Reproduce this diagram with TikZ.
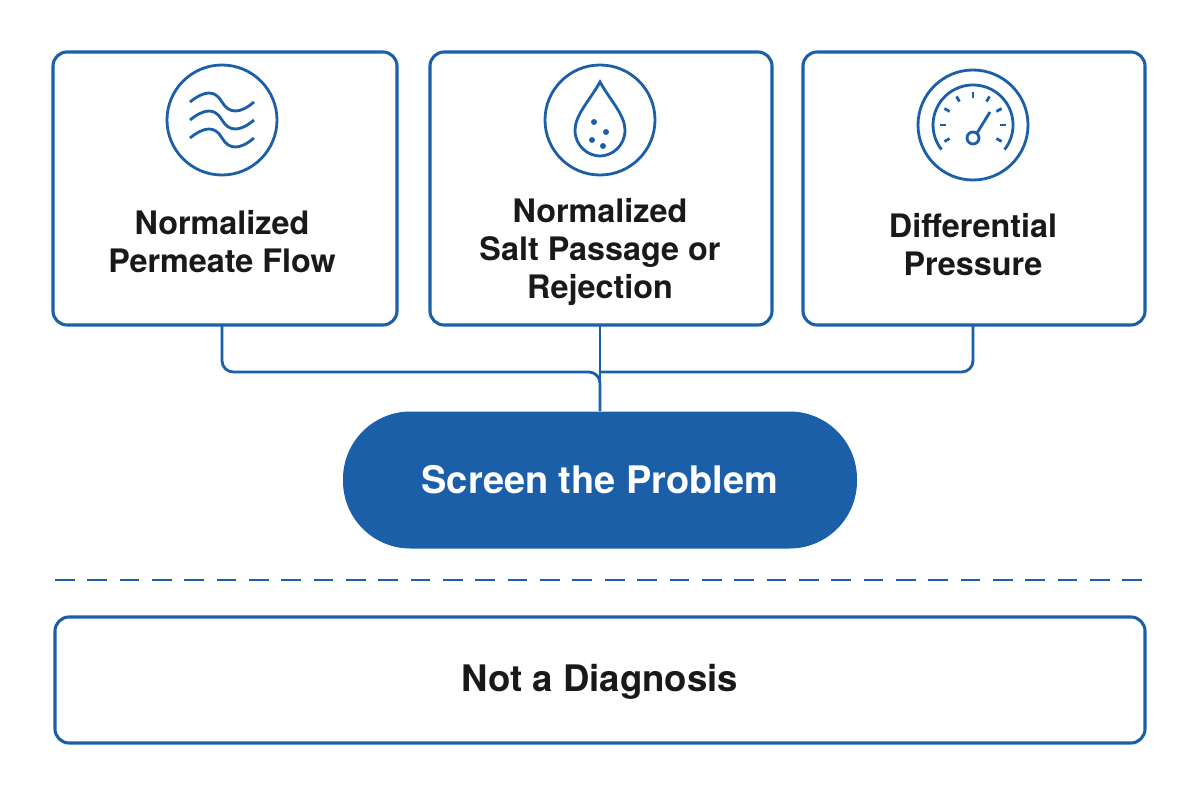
\documentclass[tikz,border=0pt]{standalone}
\usepackage{fontspec}
\setmainfont{TeX Gyre Heros}
\usetikzlibrary{calc}
\definecolor{rsblue}{HTML}{1A5FA8}
\tikzset{
  card/.style={draw=rsblue,line width=2.2pt,rounded corners=10pt},
  icon/.style={draw=rsblue,line width=2pt},
  lbl/.style={font=\fontsize{23}{27}\selectfont\bfseries,text=black!90,align=center},
  link/.style={draw=rsblue,line width=2pt,rounded corners=8pt}
}
\begin{document}
\begin{tikzpicture}[x=0.025cm,y=-0.025cm]
  \useasboundingbox (0,0) rectangle (1200,800);
  % top cards
  \draw[card] (53,52) rectangle (397,325);
  \draw[card] (430,52) rectangle (772,325);
  \draw[card] (803,52) rectangle (1145,325);
  \node[lbl] (flow) at (222,242) {Normalized\\Permeate Flow};
  \node[lbl] (salt) at (600,252) {Normalized\\Salt Passage or\\Rejection};
  \node[lbl] (dp) at (973,245) {Differential\\Pressure};
  % icons
  \draw[icon] (222,120) circle (55);
  \foreach \y in {-18,0,18}
    \draw[icon] (190,120+\y) .. controls (205,108+\y) and (215,108+\y) .. (222,120+\y)
                 .. controls (229,132+\y) and (240,132+\y) .. (254,120+\y);
  \draw[icon] (600,120) circle (55);
  \draw[icon] (600,82) .. controls (590,100) and (575,115) .. (575,130)
     .. controls (575,146) and (588,156) .. (600,156)
     .. controls (612,156) and (625,146) .. (625,130)
     .. controls (625,115) and (610,100) .. (600,82) -- cycle;
  \foreach \p in {(594,122),(606,132),(592,140),(603,146)}
    \fill[rsblue] \p circle (3);
  \draw[icon] (973,125) circle (55);
  \draw[icon] (941.5,149.6) arc (142:398:40);
  \foreach \a in {210,180,150,120,90,60,30,0,-30}
    \draw[icon] ($(973,125)+(\a:-33)$) -- ($(973,125)+(\a:-27)$);
  \draw[icon] (973,138) circle (6);
  \draw[icon] (977,133) -- (990,112);
  % links
  \node[fill=rsblue,rounded corners=48pt,minimum width=514*0.025cm,minimum height=137*0.025cm,
        text=white,font=\fontsize{27}{30}\selectfont\bfseries] (screen) at (600,480) {Screen the Problem};
  \coordinate (top) at (600,325);
  \draw[link] (222,325) -- (222,372) -- (600,372) -- (screen.north);
  \draw[link] (973,325) -- (973,372) -- (600,372);
  \draw[link] (top) -- (screen.north);
  % divider
  \draw[rsblue,line width=2pt,dash pattern=on 14pt off 9pt] (55,580) -- (1145,580);
  \draw[card] (55,617) rectangle (1145,743);
  \node[font=\fontsize{26}{30}\selectfont\bfseries,text=black!90] (nd) at (600,682) {Not a Diagnosis};
\end{tikzpicture}
\end{document}
